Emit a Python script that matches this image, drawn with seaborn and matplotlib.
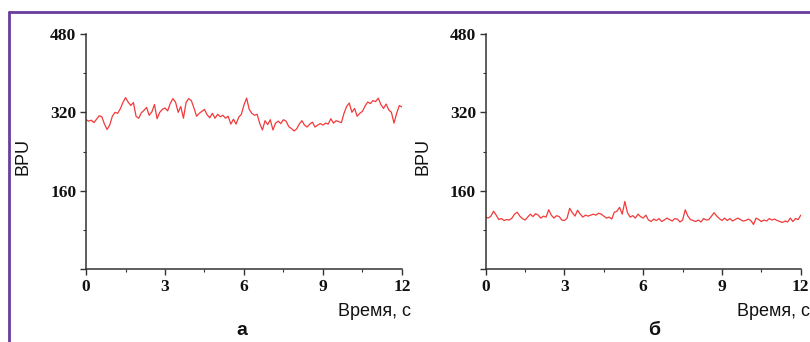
"""
Two BPU traces over 12 s (panels а and б), redrawn with seaborn.
"""

import matplotlib
matplotlib.use('Agg')
import matplotlib.pyplot as plt
from matplotlib.lines import Line2D
from matplotlib.ticker import MultipleLocator
import seaborn as sns
import pandas as pd
import numpy as np

# sampling times, s (0.1 s step)
time_s = np.round(np.arange(0, 12.05, 0.1), 1)

# panel а, BPU values
bpu_a = [305, 302, 304, 299, 306, 313, 311, 296, 285, 294,
         312, 320, 318, 327, 340, 350, 341, 334, 340, 312,
         308, 319, 324, 330, 314, 321, 336, 307, 320, 326,
         329, 323, 338, 348, 341, 320, 332, 308, 340, 348,
         344, 329, 312, 318, 322, 326, 315, 309, 318, 308,
         316, 311, 314, 308, 312, 296, 306, 296, 310, 316,
         335, 349, 326, 318, 314, 316, 297, 284, 303, 295,
         305, 284, 298, 302, 297, 305, 302, 291, 287, 282,
         286, 296, 303, 294, 290, 296, 300, 290, 294, 297,
         294, 298, 296, 307, 298, 303, 301, 299, 318, 332,
         339, 320, 328, 312, 318, 322, 333, 341, 338, 344,
         342, 349, 336, 328, 337, 325, 320, 298, 318, 334,
         331]

# panel б
bpu_b = [106, 104, 108, 118, 110, 101, 103, 99, 101, 100,
         104, 112, 116, 108, 103, 100, 106, 112, 107, 113,
         110, 104, 108, 106, 121, 110, 104, 109, 107, 100,
         99, 104, 124, 115, 108, 120, 112, 106, 110, 108,
         110, 112, 110, 114, 112, 108, 104, 106, 102, 116,
         118, 126, 112, 138, 115, 106, 109, 104, 112, 107,
         104, 110, 100, 97, 102, 99, 103, 97, 100, 104,
         101, 98, 103, 102, 96, 100, 121, 108, 101, 99,
         97, 100, 96, 103, 100, 101, 108, 115, 108, 103,
         99, 104, 99, 103, 98, 101, 104, 101, 98, 99,
         102, 99, 91, 104, 101, 97, 100, 98, 103, 100,
         102, 99, 97, 95, 98, 96, 104, 97, 103, 101,
         110]

panel_labels = ["а", "б"]
x_ticks = [0, 3, 6, 9, 12]
y_ticks = [0, 160, 320, 480]
y_tick_labels = ["", "160", "320", "480"]

sns.set_theme(style="ticks")
plt.rcParams['font.family'] = ['Liberation Sans', 'DejaVu Sans']

fig = plt.figure(figsize=(8.1, 3.42), dpi=100)
ax_a = fig.add_axes([0.1062, 0.2135, 0.390, 0.687])
ax_b = fig.add_axes([0.5996, 0.2135, 0.389, 0.687])

for ax, values, label, lab_x in zip([ax_a, ax_b], [bpu_a, bpu_b], panel_labels, [0.299, 0.807]):
    df = pd.DataFrame({"t": time_s, "bpu": values})
    sns.lineplot(data=df, x="t", y="bpu", ax=ax, color="#f23a3a", linewidth=0.9)

    ax.set_xlim(0, 12)
    ax.set_ylim(0, 480)
    ax.set_xticks(x_ticks)
    ax.set_yticks(y_ticks)
    ax.set_yticklabels(y_tick_labels)
    ax.xaxis.set_minor_locator(MultipleLocator(1.5))
    ax.yaxis.set_minor_locator(MultipleLocator(80))
    ax.tick_params(which="major", direction="out", length=4, width=1, color="#333333", pad=3)
    ax.tick_params(which="minor", direction="out", length=2.5, width=0.8, color="#333333")
    for tl in ax.get_xticklabels() + ax.get_yticklabels():
        tl.set_family("Liberation Serif")
        tl.set_weight("bold")
        tl.set_fontsize(12.5)
        tl.set_color("#111111")

    sns.despine(ax=ax)
    for side in ["left", "bottom"]:
        ax.spines[side].set_color("#333333")
        ax.spines[side].set_linewidth(1.1)

    ax.set_xlabel("")
    ax.set_ylabel("BPU", fontsize=13, color="#111111")
    ax.yaxis.set_label_coords(-0.172, 0.477)

    ax.text(1.03, -0.183, "Время, с", transform=ax.transAxes, ha="right", va="center",
            fontsize=13, color="#111111")
    fig.text(lab_x, 0.035, label, ha="center", va="center", fontsize=14,
             fontweight="bold", color="#111111")

# purple frame on left and top
frame_color = "#6a3d9a"
fig.add_artist(Line2D([9 / 810, 9 / 810], [0, 1 - 12 / 342], transform=fig.transFigure,
                      color=frame_color, linewidth=2))
fig.add_artist(Line2D([9 / 810, 1], [1 - 12 / 342, 1 - 12 / 342], transform=fig.transFigure,
                      color=frame_color, linewidth=2))

fig.savefig("out.png", dpi=100)
plt.close(fig)
